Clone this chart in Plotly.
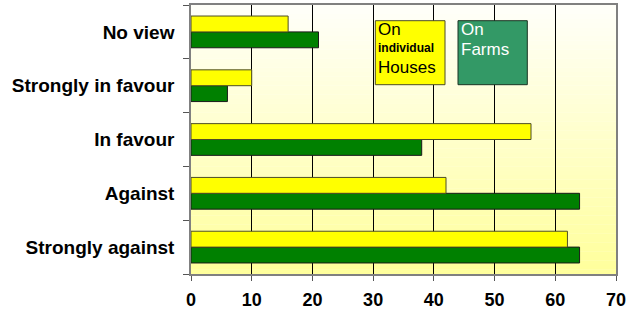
import plotly.graph_objects as go

categories = ["Strongly against", "Against", "In favour", "Strongly in favour", "No view"]
houses = [62, 42, 56, 10, 16]
farms = [64, 64, 38, 6, 21]
x_ticks = [0, 10, 20, 30, 40, 50, 60, 70]

W, H = 638, 315
L, R, T, B = 191, 22, 5, 41

fig = go.Figure()
fig.add_trace(go.Bar(y=categories, x=farms, orientation="h", name="On Farms",
                     marker=dict(color="#008000", line=dict(color="#1a1a1a", width=1))))
fig.add_trace(go.Bar(y=categories, x=houses, orientation="h", name="On individual Houses",
                     marker=dict(color="#FFFF00", line=dict(color="#4d4d26", width=1))))

# gradient background
n = 60
shapes = []
def lerp(a, b, t):
    return int(round(a + (b - a) * t))
top = (255, 255, 250)
bot = (255, 255, 155)
for i in range(n):
    t = (i + 0.5) / n
    c = tuple(lerp(top[k], bot[k], t) for k in range(3))
    shapes.append(dict(type="rect", xref="x domain", yref="y domain",
                       x0=0, x1=1, y0=1 - (i + 1) / n, y1=1 - i / n + 0.001,
                       fillcolor="rgb(%d,%d,%d)" % c, line=dict(width=0), layer="below"))

ph = H - T - B
pw = W - L - R
def px_to_x(px):
    return (px - L) / pw * 70
def py_to_p(py):
    return (H - B - py) / ph

# legend boxes
shapes.append(dict(type="rect", xref="x", yref="paper",
                   x0=px_to_x(375.3), x1=px_to_x(445), y0=py_to_p(84.7), y1=py_to_p(20.7),
                   fillcolor="#FFFF00", line=dict(color="#4d4d26", width=1), layer="above"))
shapes.append(dict(type="rect", xref="x", yref="paper",
                   x0=px_to_x(458), x1=px_to_x(527.3), y0=py_to_p(84.7), y1=py_to_p(20.7),
                   fillcolor="#339966", line=dict(color="#1a3322", width=1), layer="above"))

ann = []
def add_text(txt, px, py, size, color, bold=False):
    ann.append(dict(text=("<b>%s</b>" % txt) if bold else txt, xref="x", yref="paper",
                    x=px_to_x(px), y=py_to_p(py), xanchor="left", yanchor="middle",
                    showarrow=False, borderpad=0,
                    font=dict(family="Liberation Sans, Arial", size=size, color=color)))
add_text("On", 377, 29.5, 17, "black")
add_text("individual", 377, 47.5, 12, "black", bold=True)
add_text("Houses", 377, 67, 17, "black")
add_text("On", 460, 29.5, 17, "white")
add_text("Farms", 460, 50, 17, "white")

fig.update_layout(
    width=W, height=H, margin=dict(l=L, r=R, t=T, b=B, autoexpand=False),
    paper_bgcolor="white", plot_bgcolor="rgba(0,0,0,0)",
    barmode="group", bargap=0.41, bargroupgap=0,
    showlegend=False, shapes=shapes, annotations=ann,
    font=dict(family="Liberation Sans, Arial", color="black"),
)
fig.update_xaxes(range=[0, 70], tickvals=x_ticks, ticktext=["<b>%d</b>" % v for v in x_ticks],
                 tickfont=dict(size=18), showgrid=True, gridcolor="black", gridwidth=1,
                 showline=True, linecolor="#808080", linewidth=1.5, mirror=True,
                 ticks="outside", ticklen=5, tickcolor="#555555", zeroline=False,
                 ticklabelstandoff=4)
fig.update_yaxes(categoryorder="array", categoryarray=categories,
                 ticktext=["<b>%s</b>" % c for c in categories], tickvals=categories,
                 tickfont=dict(size=19), tickson="boundaries", ticks="outside", ticklen=6,
                 tickcolor="#555555", showline=True, linecolor="#808080", linewidth=1.5,
                 mirror=True, showgrid=False, ticklabelstandoff=11)
fig.write_html("out.html", config={"displayModeBar": False},
               post_script="document.body.style.margin='0';document.body.style.overflow='hidden';")
